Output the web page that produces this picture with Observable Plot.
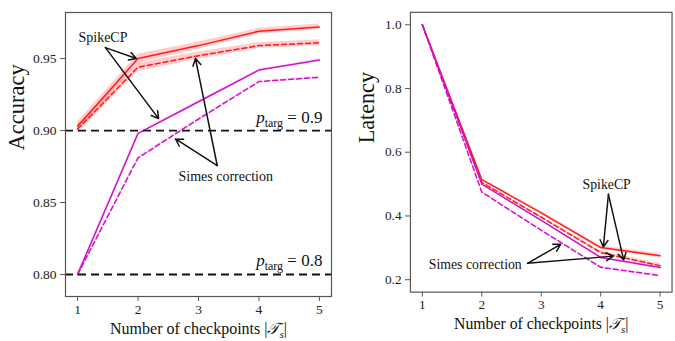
<!DOCTYPE html>
<html>
<head>
<meta charset="utf-8">
<script src="https://cdn.jsdelivr.net/npm/d3@7"></script>
<script src="https://cdn.jsdelivr.net/npm/@observablehq/plot@0.6"></script>
<style>
  html, body { margin: 0; padding: 0; background: #fff; }
  #wrap { position: relative; width: 675px; height: 341px; overflow: hidden; }
  #left { position: absolute; left: 0; top: 0; }
  #right { position: absolute; left: 340px; top: 0; }
  #wrap svg, #wrap svg text { font-family: "Liberation Serif", serif !important; }
</style>
</head>
<body>
<div id="wrap"><div id="left"></div><div id="right"></div></div>
<script>
// ---------- data ----------
const checkpoints = [1, 2, 3, 4, 5];

// Accuracy panel
const accSpikeSolid  = [0.903, 0.950, 0.959, 0.969, 0.972];
const accSpikeDash   = [0.901, 0.944, 0.952, 0.959, 0.961];
const accSimesSolid  = [0.800, 0.898, 0.920, 0.942, 0.949];
const accSimesDash   = [0.800, 0.881, 0.908, 0.934, 0.937];
const accSpikeSolidErr = [0.003, 0.003, 0.0025, 0.002, 0.002];
const accSpikeDashErr  = [0.003, 0.003, 0.0025, 0.002, 0.002];
const accSimesSolidErr = [0.002, 0.0015, 0.0012, 0.001, 0.001];
const accSimesDashErr  = [0.002, 0.0015, 0.0012, 0.001, 0.001];
const accTargets = [0.9, 0.8];
const accTargetLabels = ["0.9", "0.8"];
const accTicks = [0.80, 0.85, 0.90, 0.95];

// Latency panel
const latSpikeSolid  = [1.000, 0.514, 0.410, 0.301, 0.275];
const latSpikeDash   = [1.000, 0.505, 0.396, 0.285, 0.244];
const latSimesSolid  = [1.000, 0.500, 0.386, 0.270, 0.238];
const latSimesDash   = [1.000, 0.475, 0.355, 0.239, 0.213];
const latSpikeSolidErr = [0.002, 0.003, 0.004, 0.006, 0.007];
const latSpikeDashErr  = [0.002, 0.003, 0.004, 0.006, 0.007];
const latSimesSolidErr = [0.002, 0.003, 0.003, 0.005, 0.006];
const latSimesDashErr  = [0.002, 0.003, 0.003, 0.005, 0.006];
const latTicks = [0.2, 0.4, 0.6, 0.8, 1.0];

const RED = "#ff1a1a";
const MAG = "#cc11cc";
const FONT = "Liberation Serif";

function series(vals, errs) {
  return checkpoints.map((x, i) => ({x, y: vals[i], lo: vals[i] - errs[i], hi: vals[i] + errs[i]}));
}

function panelMarks(list) {
  const marks = [];
  for (const s of list) {
    marks.push(Plot.areaY(s.data, {x: "x", y1: "lo", y2: "hi", fill: s.band, fillOpacity: s.bandOpacity}));
  }
  for (const s of list) {
    marks.push(Plot.line(s.data, {x: "x", y: "y", stroke: s.color, strokeWidth: 1.5,
      strokeDasharray: s.dashed ? "5,3" : null}));
  }
  return marks;
}

const accSeries = [
  {data: series(accSpikeSolid, accSpikeSolidErr), color: RED, band: "#ff5a5a", bandOpacity: 0.3, dashed: false},
  {data: series(accSpikeDash, accSpikeDashErr), color: RED, band: "#ff5a5a", bandOpacity: 0.3, dashed: true},
  {data: series(accSimesSolid, accSimesSolidErr), color: MAG, band: "#ff66cc", bandOpacity: 0.15, dashed: false},
  {data: series(accSimesDash, accSimesDashErr), color: MAG, band: "#ff66cc", bandOpacity: 0.15, dashed: true}
];
const latSeries = [
  {data: series(latSpikeSolid, latSpikeSolidErr), color: RED, band: "#ff5a5a", bandOpacity: 0.25, dashed: false},
  {data: series(latSpikeDash, latSpikeDashErr), color: RED, band: "#ff5a5a", bandOpacity: 0.25, dashed: true},
  {data: series(latSimesSolid, latSimesSolidErr), color: MAG, band: "#ff66cc", bandOpacity: 0.15, dashed: false},
  {data: series(latSimesDash, latSimesDashErr), color: MAG, band: "#ff66cc", bandOpacity: 0.15, dashed: true}
];

// annotations (data coordinates)
const accLabels = [
  {x: 1.42, y: 0.9646, text: "SpikeCP"},
  {x: 3.45, y: 0.868, text: "Simes correction"}
];
const accArrows = [
  {x1: 1.46, y1: 0.9576, x2: 1.97, y2: 0.9500},
  {x1: 1.46, y1: 0.9576, x2: 2.34, y2: 0.9083},
  {x1: 3.31, y1: 0.8757, x2: 2.62, y2: 0.8942},
  {x1: 3.31, y1: 0.8757, x2: 2.95, y2: 0.9500}
];
const latLabels = [
  {x: 4.10, y: 0.498, text: "SpikeCP"},
  {x: 1.89, y: 0.247, text: "Simes correction"}
];
const latArrows = [
  {x1: 4.13, y1: 0.468, x2: 4.045, y2: 0.303},
  {x1: 4.13, y1: 0.468, x2: 4.386, y2: 0.262},
  {x1: 2.77, y1: 0.2515, x2: 3.326, y2: 0.311},
  {x1: 2.77, y1: 0.2515, x2: 4.21, y2: 0.274}
];

const XLABEL = "XLABEL_PLACEHOLDER";

function commonAxes(yTicks, yFormat, yLabel, yLabelDx, yLabelDy) {
  return [
    Plot.axisX({ticks: checkpoints, tickSize: 5, tickPadding: 3, fontSize: 13.5, fontFamily: FONT, stroke: "#555", color: "#222", label: null, tickFormat: d3.format("d")}),
    Plot.axisY({ticks: yTicks, tickSize: 5, tickPadding: 4, fontSize: 13.5, fontFamily: FONT, stroke: "#555", color: "#222", label: null, tickFormat: yFormat}),
    Plot.frame({stroke: "#555", strokeWidth: 1.2}),
    Plot.text([yLabel], {frameAnchor: "left", rotate: -90, dx: yLabelDx, dy: yLabelDy, fontSize: 22.5, fontFamily: FONT, fill: "#111", lineAnchor: "middle"}),
    Plot.text([XLABEL], {frameAnchor: "bottom", dy: 32, fontSize: 16, fontFamily: FONT, fill: "#111", lineAnchor: "middle"})
  ];
}

const left = Plot.plot({
  width: 340, height: 341,
  marginLeft: 65, marginRight: 9, marginTop: 12, marginBottom: 45,
  style: {background: "white"},
  x: {domain: [0.8, 5.2]},
  y: {domain: [0.7847, 0.982]},
  marks: [
    ...panelMarks(accSeries),
    Plot.ruleY(accTargets, {stroke: "#111", strokeWidth: 1.8, strokeDasharray: "8,5"}),
    Plot.text(accTargets.map((t, i) => ({y: t, label: "PTARG_" + accTargetLabels[i]})),
      {x: 5.05, y: "y", text: "label", textAnchor: "end", lineAnchor: "bottom", dy: -8, fontSize: 17, fontFamily: FONT, fill: "#111"}),
    Plot.arrow(accArrows, {x1: "x1", y1: "y1", x2: "x2", y2: "y2", stroke: "#111", strokeWidth: 1.5, headLength: 8}),
    Plot.text(accLabels, {x: "x", y: "y", text: "text", fontSize: 14, fontFamily: FONT, fill: "#111"}),
    ...commonAxes(accTicks, d3.format(".2f"), "Accuracy", -49, -4)
  ]
});

const right = Plot.plot({
  width: 340, height: 341,
  marginLeft: 71, marginRight: 3.5, marginTop: 12, marginBottom: 45,
  style: {background: "white"},
  x: {domain: [0.8, 5.2]},
  y: {domain: [0.161, 1.039]},
  marks: [
    ...panelMarks(latSeries),
    Plot.arrow(latArrows, {x1: "x1", y1: "y1", x2: "x2", y2: "y2", stroke: "#111", strokeWidth: 1.5, headLength: 8}),
    Plot.text(latLabels, {x: "x", y: "y", text: "text", fontSize: 14, fontFamily: FONT, fill: "#111"}),
    ...commonAxes(latTicks, d3.format(".1f"), "Latency", -44, -9)
  ]
});

function fixTexts(svg) {
  d3.select(svg).selectAll("text").each(function () {
    const t = this.textContent;
    const sel = d3.select(this);
    if (t.startsWith("PTARG_")) {
      const v = t.slice(6);
      sel.text(null);
      sel.append("tspan").attr("font-style", "italic").text("p");
      sel.append("tspan").attr("font-size", 12).attr("dy", 4).text("targ");
      sel.append("tspan").attr("dy", -4).text(" = " + v);
    } else if (t === XLABEL) {
      sel.text(null);
      sel.append("tspan").text("Number of checkpoints |");
      sel.append("tspan").attr("font-style", "italic").text("\u{1D4AF}");
      sel.append("tspan").attr("font-size", 11).attr("font-style", "italic").attr("dy", 4).text("s");
      sel.append("tspan").attr("dy", -4).text("|");
    }
  });
}
fixTexts(left);
fixTexts(right);

document.getElementById("left").appendChild(left);
document.getElementById("right").appendChild(right);
</script>
</body>
</html>
